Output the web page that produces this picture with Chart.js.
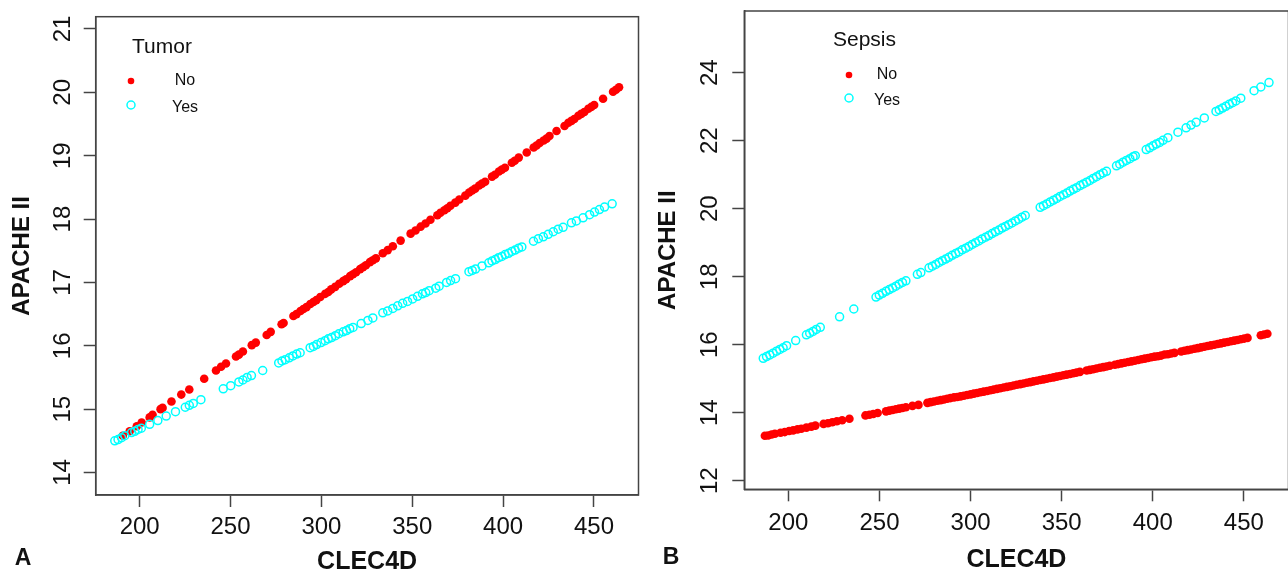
<!DOCTYPE html>
<html>
<head>
<meta charset="utf-8">
<script src="https://cdn.jsdelivr.net/npm/chart.js@4.4.1/dist/chart.umd.min.js"></script>
<style>
  html, body { margin: 0; padding: 0; background: #fff; overflow: hidden; }
  body { width: 1288px; height: 577px; position: relative; }
  canvas { position: absolute; top: 0; }
  #chartA { left: 0; }
  #chartB { left: 644px; }
</style>
</head>
<body>
<canvas id="chartA" width="644" height="577"></canvas>
<canvas id="chartB" width="650" height="577"></canvas>
<script>
// ---- data (predicted APACHE II vs CLEC4D) ----
const groupLabels = ['No', 'Yes'];
const xTicks = [200, 250, 300, 350, 400, 450];
const yTicksA = [14, 15, 16, 17, 18, 19, 20, 21];
const yTicksB = [12, 14, 16, 18, 20, 22, 24];

// Panel A: Tumor
const tumorNoX = [190.7,194.5,198.4,201.1,205.5,207.1,211.5,212.6,217.5,222.9,
  227.3,235.5,242.0,244.8,247.5,253.0,254.6,256.8,261.7,263.9,
  269.9,272.1,278.1,279.2,284.6,286.3,288.5,290.1,291.8,293.9,
  295.6,297.2,299.4,302.1,303.8,305.4,307.6,309.8,312.0,313.6,
  315.8,317.4,319.1,321.3,322.9,324.5,326.7,328.3,330.0,333.8,
  336.5,339.3,343.6,349.1,351.8,354.6,357.3,360.0,363.8,365.5,
  367.7,369.3,371.0,373.7,375.9,379.2,381.3,383.0,384.6,386.8,
  388.4,390.1,393.9,395.5,397.7,399.3,401.0,404.8,406.4,408.6,
  413.0,416.8,418.4,420.1,422.3,423.9,425.5,429.4,433.8,435.9,
  437.6,439.2,441.4,443.0,444.7,446.9,448.5,450.1,455.0,460.5,
  462.1,463.8];
const tumorNoY = [14.58,14.65,14.73,14.79,14.87,14.91,15.00,15.02,15.12,15.23,
  15.31,15.48,15.61,15.67,15.72,15.83,15.86,15.91,16.01,16.05,
  16.17,16.22,16.34,16.36,16.47,16.50,16.55,16.58,16.61,16.66,
  16.69,16.72,16.77,16.82,16.85,16.89,16.93,16.98,17.02,17.05,
  17.10,17.13,17.16,17.21,17.24,17.27,17.32,17.35,17.38,17.46,
  17.51,17.57,17.66,17.77,17.82,17.88,17.93,17.99,18.06,18.10,
  18.14,18.17,18.21,18.26,18.31,18.37,18.42,18.45,18.48,18.53,
  18.56,18.59,18.67,18.70,18.75,18.78,18.81,18.89,18.92,18.97,
  19.05,19.13,19.16,19.20,19.24,19.27,19.31,19.39,19.47,19.52,
  19.55,19.58,19.63,19.66,19.69,19.74,19.77,19.80,19.90,20.01,
  20.04,20.08];
const tumorYesX = [186.3,188.1,190.0,191.8,195.5,197.3,199.1,200.9,205.5,210.0,
  214.6,219.7,225.1,227.3,229.5,233.7,246.0,250.1,254.6,256.8,
  259.1,261.5,267.7,276.5,278.3,280.1,282.3,284.3,286.4,288.3,
  293.8,295.6,297.4,299.8,302.0,303.8,305.6,307.7,309.6,312.0,
  313.8,315.6,317.4,321.9,325.6,328.3,333.8,336.5,339.3,342.0,
  344.7,347.4,350.2,352.9,355.6,357.4,359.3,362.9,364.8,368.9,
  371.1,373.8,381.2,383.0,384.8,388.4,392.1,393.9,395.7,397.5,
  399.3,401.1,403.0,404.8,406.6,408.5,410.3,416.7,419.4,422.1,
  424.8,427.6,430.3,433.0,437.6,440.3,444.0,447.6,450.3,453.0,
  455.8,460.0];
const tumorYesY = [14.50,14.52,14.55,14.58,14.63,14.65,14.68,14.70,14.76,14.82,
  14.89,14.96,15.03,15.06,15.09,15.15,15.32,15.37,15.43,15.46,
  15.50,15.53,15.61,15.73,15.76,15.78,15.81,15.84,15.87,15.89,
  15.97,15.99,16.02,16.05,16.08,16.11,16.13,16.16,16.19,16.22,
  16.24,16.27,16.29,16.35,16.40,16.44,16.52,16.55,16.59,16.63,
  16.67,16.70,16.74,16.78,16.82,16.84,16.87,16.91,16.94,17.00,
  17.03,17.06,17.17,17.19,17.21,17.26,17.31,17.34,17.36,17.39,
  17.41,17.44,17.46,17.49,17.51,17.54,17.56,17.65,17.69,17.72,
  17.76,17.80,17.84,17.87,17.94,17.97,18.02,18.07,18.11,18.15,
  18.19,18.24];

// Panel B: Sepsis
const sepsisNoX = [187.1,188.9,190.8,192.6,195.7,198.0,200.4,202.6,205.0,207.1,
  209.9,212.6,214.8,219.3,221.7,224.1,226.6,229.5,233.5,242.3,
  244.5,246.6,249.0,253.6,255.4,257.2,259.0,260.8,262.6,264.5,
  268.1,271.4,276.3,278.1,279.9,281.8,283.6,285.4,287.2,289.0,
  290.9,292.7,294.5,296.3,298.1,300.0,301.8,303.6,305.4,307.2,
  309.1,310.9,312.7,314.5,316.3,318.2,320.0,321.8,323.6,325.4,
  327.3,329.1,330.9,332.7,334.5,336.4,338.2,340.0,341.8,343.6,
  345.5,347.3,349.1,350.9,352.7,354.6,356.4,358.2,360.0,363.7,
  365.5,367.3,369.1,371.0,372.8,374.6,376.4,379.2,381.0,382.8,
  384.6,386.5,388.3,390.1,392.0,393.8,395.6,397.4,399.2,401.0,
  402.8,404.6,406.5,408.3,410.1,411.9,415.6,417.4,419.2,421.0,
  422.9,424.7,426.5,428.3,430.1,431.9,433.8,435.6,437.4,439.2,
  441.1,442.9,444.7,446.5,448.3,450.2,452.0,459.3,461.1,462.9];
const sepsisNoY = [13.32,13.33,13.36,13.38,13.41,13.43,13.46,13.48,13.51,13.53,
  13.56,13.59,13.62,13.67,13.69,13.72,13.75,13.78,13.82,13.92,
  13.94,13.96,13.99,14.04,14.06,14.08,14.10,14.12,14.14,14.16,
  14.20,14.23,14.29,14.31,14.33,14.35,14.37,14.39,14.41,14.43,
  14.45,14.46,14.48,14.50,14.52,14.54,14.56,14.58,14.60,14.62,
  14.64,14.66,14.68,14.70,14.72,14.74,14.76,14.78,14.80,14.82,
  14.84,14.86,14.88,14.90,14.92,14.94,14.96,14.98,15.00,15.02,
  15.04,15.06,15.08,15.10,15.12,15.14,15.16,15.18,15.20,15.24,
  15.26,15.28,15.30,15.32,15.34,15.36,15.38,15.41,15.43,15.45,
  15.47,15.49,15.51,15.53,15.55,15.57,15.59,15.61,15.63,15.65,
  15.66,15.68,15.71,15.72,15.74,15.76,15.80,15.82,15.84,15.86,
  15.88,15.90,15.92,15.94,15.96,15.98,16.00,16.02,16.04,16.06,
  16.08,16.10,16.12,16.14,16.16,16.18,16.20,16.28,16.30,16.32];
const sepsisYesX = [186.2,188.0,189.8,191.6,193.5,195.3,197.1,199.0,204.0,209.9,
  211.7,213.5,215.3,217.5,228.1,235.9,248.1,249.9,251.7,253.6,
  255.4,257.2,259.0,260.8,262.6,264.5,270.8,272.7,277.2,279.0,
  280.9,282.7,284.5,286.3,288.1,289.9,291.8,293.6,295.4,297.3,
  299.1,300.9,302.7,304.5,306.3,308.2,310.0,311.8,313.6,315.5,
  317.3,319.1,320.9,322.7,324.6,326.4,328.2,330.0,338.2,340.0,
  341.8,343.7,345.5,347.3,349.1,351.0,352.8,354.6,356.4,358.2,
  360.1,361.9,363.7,365.5,367.3,369.1,371.0,372.8,374.6,380.1,
  381.9,383.7,385.5,387.4,389.2,390.4,396.4,398.3,400.1,401.9,
  403.8,405.6,408.3,413.8,418.3,421.0,423.8,428.3,434.7,436.5,
  438.3,440.1,442.0,443.8,445.6,448.3,455.6,459.3,463.8];
const sepsisYesY = [15.60,15.65,15.70,15.75,15.81,15.86,15.91,15.97,16.12,16.29,
  16.34,16.39,16.45,16.51,16.82,17.05,17.40,17.46,17.51,17.57,
  17.62,17.67,17.72,17.78,17.83,17.88,18.07,18.12,18.26,18.31,
  18.36,18.42,18.47,18.52,18.57,18.63,18.68,18.73,18.79,18.84,
  18.89,18.95,19.00,19.05,19.11,19.16,19.21,19.27,19.32,19.37,
  19.43,19.48,19.53,19.58,19.64,19.69,19.75,19.80,20.04,20.09,
  20.14,20.20,20.25,20.30,20.36,20.41,20.46,20.52,20.57,20.62,
  20.68,20.73,20.78,20.83,20.89,20.94,21.00,21.05,21.10,21.26,
  21.31,21.37,21.42,21.47,21.53,21.56,21.74,21.79,21.85,21.90,
  21.95,22.01,22.09,22.25,22.38,22.46,22.54,22.67,22.86,22.91,
  22.96,23.01,23.07,23.12,23.17,23.25,23.47,23.58,23.71];

const xRange = [175.8, 474.5];
const yRangeA = [13.645, 21.194];
const yRangeB = [11.747, 25.815];

// ---- styling ----
const FONT = "'Liberation Sans', Arial, Helvetica, sans-serif";
const RED = '#ff0000';
const CYAN = '#00ffff';
const AXIS = '#444';

const toPoints = (xs, ys) => xs.map((x, i) => ({ x: x, y: ys[i] }));
const asTicks = vals => vals.map(v => ({ value: v }));

// box around the plot + legend + panel letter, R style
const rDecor = {
  id: 'rDecor',
  afterDraw(chart, args, o) {
    const { ctx, chartArea: a } = chart;
    ctx.save();
    ctx.strokeStyle = AXIS;
    ctx.lineWidth = 1.5;
    ctx.strokeRect(a.left, a.top, a.right - a.left, a.bottom - a.top);

    ctx.fillStyle = '#111';
    ctx.textBaseline = 'middle';
    ctx.font = '21px ' + FONT;
    ctx.textAlign = 'left';
    ctx.fillText(o.title, o.titleX, o.titleY);

    ctx.font = '16px ' + FONT;
    ctx.textAlign = 'center';
    ctx.fillText(groupLabels[0], o.textX, o.rowY[0]);
    ctx.fillText(groupLabels[1], o.textX, o.rowY[1] + 3);

    ctx.beginPath();
    ctx.arc(o.markX, o.rowY[0], 3.3, 0, Math.PI * 2);
    ctx.fillStyle = RED;
    ctx.fill();
    ctx.beginPath();
    ctx.arc(o.markX, o.rowY[1], 4, 0, Math.PI * 2);
    ctx.strokeStyle = CYAN;
    ctx.lineWidth = 1.5;
    ctx.stroke();

    ctx.fillStyle = '#111';
    ctx.font = 'bold 23px ' + FONT;
    ctx.textAlign = 'center';
    ctx.fillText(o.letter, o.letterX, o.letterY);
    ctx.restore();
  }
};

function makePanel(id, p) {
  return new Chart(document.getElementById(id), {
    type: 'scatter',
    data: {
      datasets: [
        {
          label: groupLabels[1],
          data: toPoints(p.yesX, p.yesY),
          pointRadius: 4,
          pointBorderWidth: 1.5,
          borderColor: CYAN,
          backgroundColor: 'rgba(0,0,0,0)'
        },
        {
          label: groupLabels[0],
          data: toPoints(p.noX, p.noY),
          pointRadius: 4.3,
          pointBorderWidth: 0,
          borderColor: RED,
          backgroundColor: RED
        }
      ]
    },
    options: {
      responsive: false,
      animation: false,
      devicePixelRatio: 1,
      layout: { padding: { left: 0, top: p.top, right: p.right, bottom: 0 } },
      plugins: {
        legend: { display: false },
        tooltip: { enabled: false },
        rDecor: p.decor
      },
      scales: {
        x: {
          type: 'linear',
          min: xRange[0],
          max: xRange[1],
          afterBuildTicks(s) { s.ticks = asTicks(xTicks); },
          afterFit(s) { s.height = p.xAxisH; s.paddingLeft = 0; s.paddingRight = 0; },
          border: { display: true, color: AXIS, width: 1.5 },
          grid: { drawOnChartArea: false, drawTicks: true, tickLength: 12, tickColor: AXIS, tickWidth: 1.5 },
          ticks: {
            maxRotation: 0, autoSkip: false,
            color: '#111', padding: p.xPad,
            font: { family: FONT, size: 24 }
          },
          title: {
            display: true, text: 'CLEC4D', color: '#111',
            font: { family: FONT, size: 25, weight: 'bold', lineHeight: 1 },
            padding: { top: 0, bottom: p.xTitlePad }
          }
        },
        y: {
          type: 'linear',
          min: p.yRange[0],
          max: p.yRange[1],
          afterBuildTicks(s) { s.ticks = asTicks(p.yTicks); },
          afterFit(s) { s.width = p.yAxisW; s.paddingTop = 0; s.paddingBottom = 0; },
          border: { display: true, color: AXIS, width: 1.5 },
          grid: { drawOnChartArea: false, drawTicks: true, tickLength: 12, tickColor: AXIS, tickWidth: 1.5 },
          ticks: {
            minRotation: 90, maxRotation: 90, crossAlign: 'center', autoSkip: false,
            color: '#111', padding: p.yPad,
            font: { family: FONT, size: 24 }
          },
          title: {
            display: true, text: 'APACHE II', color: '#111',
            font: { family: FONT, size: 24, weight: 'bold', lineHeight: 1 },
            padding: { top: p.yTitlePad, bottom: 0 }
          }
        }
      }
    },
    plugins: [rDecor]
  });
}

makePanel('chartA', {
  noX: tumorNoX, noY: tumorNoY, yesX: tumorYesX, yesY: tumorYesY,
  yRange: yRangeA, yTicks: yTicksA,
  top: 16.7, right: 1.7, yAxisW: 95.7, xAxisH: 82,
  xPad: 6, yPad: 7, xTitlePad: 2, yTitlePad: 10,
  decor: {
    title: 'Tumor', titleX: 132, titleY: 47,
    markX: 131, textX: 185, rowY: [81, 105],
    letter: 'A', letterX: 23, letterY: 559
  }
});

makePanel('chartB', {
  noX: sepsisNoX, noY: sepsisNoY, yesX: sepsisYesX, yesY: sepsisYesY,
  yRange: yRangeB, yTicks: yTicksB,
  top: 11, right: 3.1, yAxisW: 100.3, xAxisH: 87.7,
  xPad: 8, yPad: 9, xTitlePad: 4, yTitlePad: 12,
  decor: {
    title: 'Sepsis', titleX: 189, titleY: 40,
    markX: 205, textX: 243, rowY: [75, 98],
    letter: 'B', letterX: 27, letterY: 558
  }
});
</script>
</body>
</html>
